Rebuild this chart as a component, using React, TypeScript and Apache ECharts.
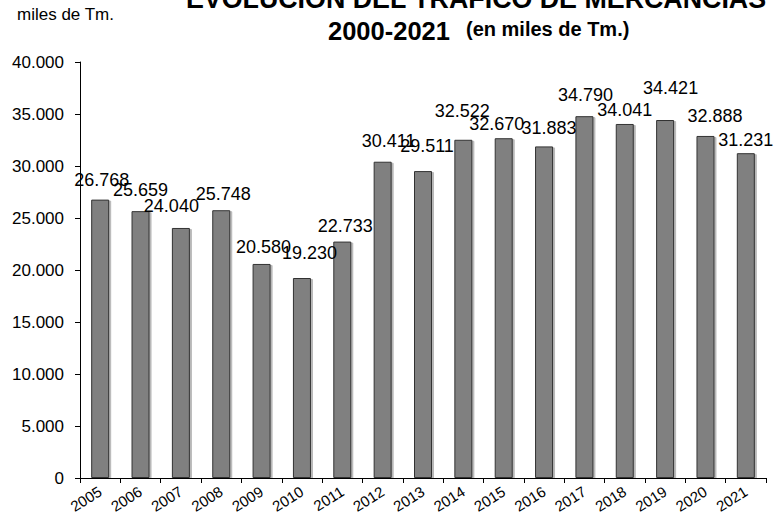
import React, { useEffect, useRef } from "react";
import * as echarts from "echarts";

const years = ["2005","2006","2007","2008","2009","2010","2011","2012","2013","2014","2015","2016","2017","2018","2019","2020","2021"];
const traffic = [26768, 25659, 24040, 25748, 20580, 19230, 22733, 30411, 29511, 32522, 32670, 31883, 34790, 34041, 34421, 32888, 31231];
const yTicks = [0, 5000, 10000, 15000, 20000, 25000, 30000, 35000, 40000];

// manual label nudges (as placed in the original): horizontal shift, gap above bar top
const labelDx = [1.5, 0, -9.5, 2, 2, 7.5, 3, 6, 4, -1, -7, 5, 1, 0, 5.5, 9.5, 0];
const labelGap = [20, 21, 22, 16, 17, 25, 16, 21, 25, 29, 14, 18, 21, 14, 32, 20, 13];

const fmt = (v: number) => String(v).replace(/\B(?=(\d{3})+(?!\d))/g, ".");

const FONT = "'Liberation Sans', Arial, sans-serif";

export default function App() {
  const ref = useRef<HTMLDivElement>(null);
  useEffect(() => {
    if (!ref.current) return;
    const chart = echarts.init(ref.current, null, { renderer: "svg" });
    const data = traffic.map((v, i) => ({
      value: v,
      label: { offset: [labelDx[i], -(labelGap[i] - 9)] },
    }));
    chart.setOption({
      animation: false,
      backgroundColor: "#ffffff",
      textStyle: { fontFamily: FONT },
      grid: { left: 80, right: 16, top: 62, bottom: 41, containLabel: false },
      xAxis: {
        type: "category",
        data: years,
        axisLine: { lineStyle: { color: "#000", width: 1 } },
        axisTick: { show: true, length: 5, lineStyle: { color: "#000" } },
        axisLabel: { rotate: 32, margin: 12, fontSize: 15, color: "#000", fontFamily: FONT, interval: 0 },
      },
      yAxis: {
        type: "value",
        min: yTicks[0],
        max: yTicks[yTicks.length - 1],
        interval: 5000,
        splitLine: { show: false },
        axisLine: { show: true, lineStyle: { color: "#000", width: 1 } },
        axisTick: { show: true, length: 5, lineStyle: { color: "#000" } },
        axisLabel: { margin: 16, fontSize: 17, color: "#000", fontFamily: FONT, formatter: (v: number) => fmt(v) },
      },
      series: [
        {
          type: "bar",
          data,
          barWidth: 18,
          itemStyle: {
            color: "#808080",
            borderColor: "#333333",
            borderWidth: 1,
            shadowColor: "rgba(0,0,0,0.28)",
            shadowOffsetX: 2,
            shadowOffsetY: 1,
            shadowBlur: 0,
          },
          label: {
            show: true,
            position: "top",
            distance: 0,
            fontSize: 18,
            color: "#000",
            fontFamily: FONT,
            formatter: (p: any) => fmt(p.value),
          },
        },
      ],
      graphic: [
        {
          type: "text",
          left: 17,
          top: 6,
          style: { text: "miles de Tm.", fontSize: 17, fill: "#000", fontFamily: FONT },
        },
        {
          type: "text",
          x: 476,
          y: -1,
          style: {
            text: "EVOLUCIÓN DEL TRÁFICO DE MERCANCÍAS",
            fontSize: 26.8,
            fontWeight: "bold",
            fill: "#000",
            fontFamily: FONT,
            textAlign: "center",
            textVerticalAlign: "middle",
          },
        },
        {
          type: "text",
          x: 328,
          y: 31,
          style: {
            text: "2000-2021",
            fontSize: 25.5,
            fontWeight: "bold",
            fill: "#000",
            fontFamily: FONT,
            textAlign: "left",
            textVerticalAlign: "middle",
          },
        },
        {
          type: "text",
          x: 466,
          y: 29,
          style: {
            text: "(en miles de Tm.)",
            fontSize: 20,
            fontWeight: "bold",
            fill: "#000",
            fontFamily: FONT,
            textAlign: "left",
            textVerticalAlign: "middle",
          },
        },
      ],
    });
    return () => chart.dispose();
  }, []);
  return <div ref={ref} style={{ position: "absolute", left: 0, top: 0, width: 782, height: 519 }} />;
}
